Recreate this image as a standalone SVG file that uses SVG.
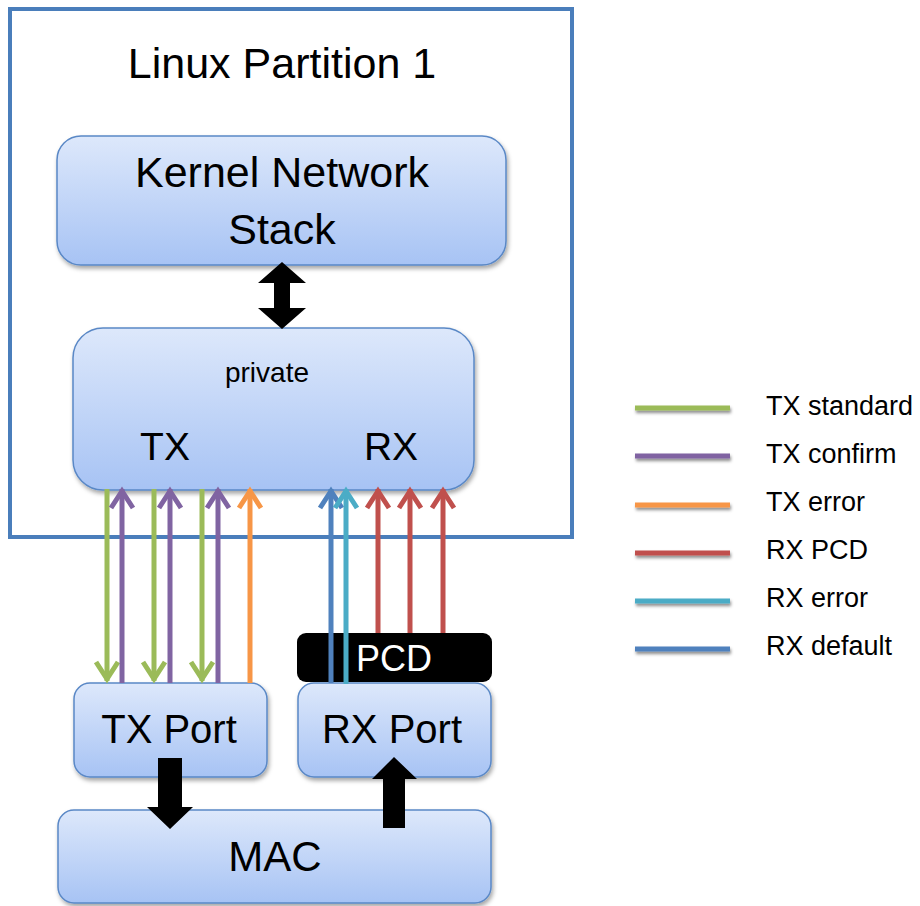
<svg xmlns="http://www.w3.org/2000/svg" width="920" height="906" viewBox="0 0 920 906">
<style>
.box{fill:url(#g);stroke:#5a88c6;stroke-width:1.5;filter:url(#sh)}
.t{font-family:"Liberation Sans",Arial,sans-serif;fill:#000;text-anchor:middle}
.lt{font-family:"Liberation Sans",Arial,sans-serif;fill:#000;font-size:27px}
.a{stroke-width:5;fill:none}
.lg{filter:url(#sh2)}
.blk{fill:#000}
</style>
<defs>
<linearGradient id="g" x1="0" y1="0" x2="0" y2="1">
<stop offset="0" stop-color="#dde8fb"/>
<stop offset="1" stop-color="#a7c3f4"/>
</linearGradient>
<filter id="sh" x="-10%" y="-10%" width="120%" height="130%">
<feDropShadow dx="1.5" dy="3" stdDeviation="2" flood-color="#000" flood-opacity="0.35"/>
</filter>
<filter id="sh2" x="-10%" y="-150%" width="120%" height="500%">
<feDropShadow dx="1" dy="2.5" stdDeviation="1.5" flood-color="#000" flood-opacity="0.45"/>
</filter>
<marker id="mG" markerUnits="userSpaceOnUse" orient="auto" refX="0" refY="0" markerWidth="30" markerHeight="30" overflow="visible"><path d="M-19,-11 L-2,0 L-19,11" fill="none" stroke="#9bbb59" stroke-width="5"/></marker>
<marker id="mP" markerUnits="userSpaceOnUse" orient="auto" refX="0" refY="0" markerWidth="30" markerHeight="30" overflow="visible"><path d="M-19,-11 L-2,0 L-19,11" fill="none" stroke="#8064a2" stroke-width="5"/></marker>
<marker id="mO" markerUnits="userSpaceOnUse" orient="auto" refX="0" refY="0" markerWidth="30" markerHeight="30" overflow="visible"><path d="M-19,-11 L-2,0 L-19,11" fill="none" stroke="#f79646" stroke-width="5"/></marker>
<marker id="mR" markerUnits="userSpaceOnUse" orient="auto" refX="0" refY="0" markerWidth="30" markerHeight="30" overflow="visible"><path d="M-19,-11 L-2,0 L-19,11" fill="none" stroke="#c0504d" stroke-width="5"/></marker>
<marker id="mC" markerUnits="userSpaceOnUse" orient="auto" refX="0" refY="0" markerWidth="30" markerHeight="30" overflow="visible"><path d="M-19,-11 L-2,0 L-19,11" fill="none" stroke="#4bacc6" stroke-width="5"/></marker>
<marker id="mB" markerUnits="userSpaceOnUse" orient="auto" refX="0" refY="0" markerWidth="30" markerHeight="30" overflow="visible"><path d="M-19,-11 L-2,0 L-19,11" fill="none" stroke="#4f81bd" stroke-width="5"/></marker>
</defs>
<rect width="920" height="906" fill="#fff"/>

<g id="partition">
<rect x="10" y="9" width="562" height="528" fill="#fff" stroke="#4a7ebb" stroke-width="4"/>
<text class="t" x="282" y="78" font-size="43">Linux Partition 1</text>
</g>

<g id="kernel">
<rect class="box" x="57" y="136" width="449" height="129" rx="24"/>
<text class="t" x="282" y="187" font-size="43">Kernel Network</text>
<text class="t" x="282" y="244" font-size="43">Stack</text>
</g>

<g id="private">
<rect class="box" x="73" y="328" width="401" height="162" rx="30"/>
<text class="t" x="267" y="382" font-size="28">private</text>
<text class="t" x="165" y="460" font-size="39">TX</text>
<text class="t" x="391" y="460" font-size="39">RX</text>
</g>

<g id="txport">
<rect class="box" x="74" y="683" width="193" height="94" rx="16"/>
<text class="t" x="169" y="743" font-size="40">TX Port</text>
</g>

<g id="rxport">
<rect class="box" x="298" y="683" width="193" height="94" rx="16"/>
<text class="t" x="392" y="743" font-size="40">RX Port</text>
</g>

<g id="pcd">
<rect x="297" y="633" width="195" height="49" rx="9" fill="#000"/>
<text class="t" x="394" y="671" font-size="36" style="fill:#fff">PCD</text>
</g>

<g id="mac">
<rect class="box" x="58" y="810" width="433" height="93" rx="16"/>
<text class="t" x="275" y="871" font-size="42">MAC</text>
</g>

<g id="connectors">
<polygon class="blk" points="282,262 306,283 290,283 290,308 306,308 282,329 258,308 274,308 274,283 258,283"/>
<polygon class="blk" points="158,758 182,758 182,807 193,807 170,829 147,807 158,807"/>
<polygon class="blk" points="383,828 405,828 405,779 417,779 394,757 372,779 383,779"/>

<line class="a" x1="107" y1="489" x2="107" y2="681" stroke="#9bbb59" marker-end="url(#mG)"/>
<line class="a" x1="154" y1="489" x2="154" y2="681" stroke="#9bbb59" marker-end="url(#mG)"/>
<line class="a" x1="202" y1="489" x2="202" y2="681" stroke="#9bbb59" marker-end="url(#mG)"/>
<line class="a" x1="122" y1="683" x2="122" y2="489" stroke="#8064a2" marker-end="url(#mP)"/>
<line class="a" x1="170" y1="683" x2="170" y2="489" stroke="#8064a2" marker-end="url(#mP)"/>
<line class="a" x1="218" y1="683" x2="218" y2="489" stroke="#8064a2" marker-end="url(#mP)"/>
<line class="a" x1="250" y1="683" x2="250" y2="489" stroke="#f79646" marker-end="url(#mO)"/>
<line class="a" x1="331" y1="683" x2="331" y2="489" stroke="#4f81bd" marker-end="url(#mB)"/>
<line class="a" x1="346" y1="684" x2="346" y2="489" stroke="#4bacc6" marker-end="url(#mC)"/>
<line class="a" x1="378" y1="633" x2="378" y2="489" stroke="#c0504d" marker-end="url(#mR)"/>
<line class="a" x1="410" y1="633" x2="410" y2="489" stroke="#c0504d" marker-end="url(#mR)"/>
<line class="a" x1="443" y1="633" x2="443" y2="489" stroke="#c0504d" marker-end="url(#mR)"/>
</g>

<g id="legend">
<rect class="lg" x="635" y="405.5" width="95" height="5" fill="#9bbb59"/>
<rect class="lg" x="635" y="453.5" width="95" height="5" fill="#8064a2"/>
<rect class="lg" x="635" y="502.5" width="95" height="5" fill="#f79646"/>
<rect class="lg" x="635" y="550.5" width="95" height="5" fill="#c0504d"/>
<rect class="lg" x="635" y="598.5" width="95" height="5" fill="#4bacc6"/>
<rect class="lg" x="635" y="646.5" width="95" height="5" fill="#4f81bd"/>
<text class="lt" x="766" y="415">TX standard</text>
<text class="lt" x="766" y="463">TX confirm</text>
<text class="lt" x="766" y="511">TX error</text>
<text class="lt" x="766" y="559">RX PCD</text>
<text class="lt" x="766" y="607">RX error</text>
<text class="lt" x="766" y="655">RX default</text>
</g>
</svg>
